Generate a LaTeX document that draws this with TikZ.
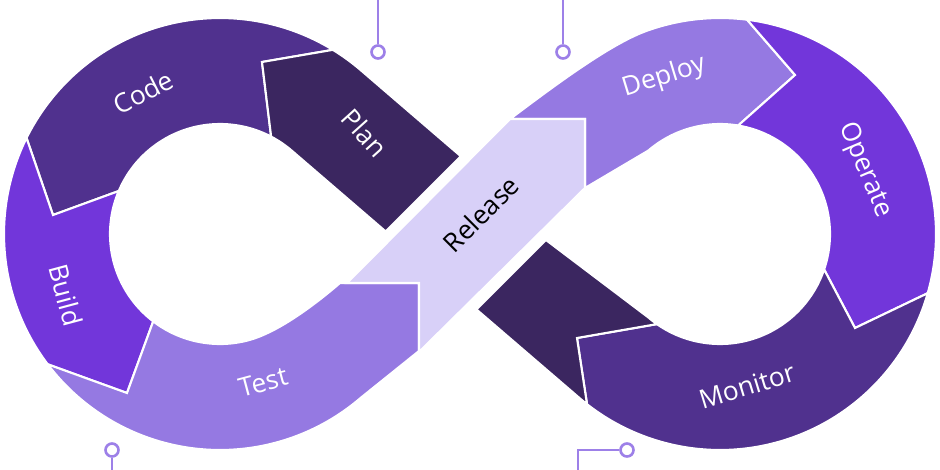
\documentclass[tikz,border=0pt]{standalone}
\usepackage{fontspec}
\setmainfont{Open Sans}
\usetikzlibrary{calc}
\definecolor{plancol}{HTML}{3B2660}
\definecolor{codecol}{HTML}{50318E}
\definecolor{buildcol}{HTML}{7236DA}
\definecolor{testcol}{HTML}{9579E2}
\definecolor{relcol}{HTML}{D8D0F8}
\definecolor{pincol}{HTML}{9D80E8}
\tikzset{%
  mystage/.style={draw=white, line width=1.2pt, line join=miter},
  mylabel/.style={text=white, font=\fontsize{15}{18}\selectfont},
  mypin/.style={circle, draw=pincol, line width=1.5pt, fill=white, minimum size=0.26cm, inner sep=0pt},
  mywire/.style={draw=pincol, line width=1.5pt}
}

\begin{document}
\begin{tikzpicture}[x=0.02cm, y=-0.02cm]
\useasboundingbox (0,0) rectangle (940,470);

\coordinate (cL) at (220,234);
\coordinate (cR) at (720,234);

% left loop
\path[fill=codecol, mystage] ($(cL)+(301.5:216)$) arc[start angle=301.5, end angle=206.4, radius=216]
  -- (53,215) -- ($(cL)+(203:110)$) arc[start angle=203, end angle=297.7, radius=110]
  -- (262,62) -- cycle;
\path[fill=buildcol, mystage] ($(cL)+(206.4:216)$) arc[start angle=206.4, end angle=142.9, radius=216]
  -- (127,393) -- ($(cL)+(127.4:110)$) arc[start angle=127.4, end angle=203, radius=110]
  -- (53,215) -- cycle;
\path[fill=testcol, mystage] ($(cL)+(142.9:216)$) arc[start angle=142.9, end angle=49.3, radius=216]
  -- (419,351) -- (419,283) -- (340,283) .. controls (313.5,305.8) and (277.5,332.5) .. ($(cL)+(75:110)$)
  arc[start angle=75, end angle=127.4, radius=110]
  -- (127,393) -- cycle;
\path[fill=plancol, mystage] (460.8,156.2) -- (385.6,231.4) -- ($(cL)+(310.7:110)$) arc[start angle=310.7, end angle=297.7, radius=110]
  -- (262,62) -- ($(cL)+(301.5:216)$) arc[start angle=301.5, end angle=310.7, radius=216] -- cycle;

% right loop
\path[fill=testcol, mystage] (510,119) .. controls (550,89) and (608.5,44.7) .. ($(cR)+(250:216)$)
  arc[start angle=250, end angle=277.2, radius=216]
  -- (795,75) -- ($(cR)+(279.5:110)$) arc[start angle=279.5, end angle=229.3, radius=110]
  -- (585,188) -- (585,119) -- cycle;
\path[fill=buildcol, mystage] ($(cR)+(277.2:216)$) arc[start angle=277.2, end angle=375.9, radius=216]
  -- (855,328) -- ($(cR)+(18.8:110)$) arc[start angle=378.8, end angle=279.5, radius=110]
  -- (795,75) -- cycle;
\path[fill=codecol, mystage] ($(cR)+(15.9:216)$) arc[start angle=15.9, end angle=128, radius=216]
  -- (577,338) -- ($(cR)+(125:110)$) arc[start angle=125, end angle=18.8, radius=110]
  -- (855,328) -- cycle;
\path[fill=plancol, mystage] ($(cR)+(128:216)$) arc[start angle=128, end angle=130.7, radius=216]
  -- (476.5,309.5) -- (546,240) -- ($(cR)+(130.7:110)$) arc[start angle=130.7, end angle=125, radius=110]
  -- (577,338) -- cycle;

% release on top
\path[fill=relcol, mystage] (347,283) -- (510,119) -- (585,119) -- (585,188) -- (419,352) -- (419,283) -- cycle;

\node[mylabel, rotate=27] (code) at (143,92) {Code};
\node[mylabel, rotate=-48] (plan) at (365,133) {Plan};
\node[mylabel, rotate=-75] (build) at (66,295) {Build};
\node[mylabel, rotate=15] (test) at (263,382) {Test};
\node[mylabel, rotate=45, text=black] (release) at (481,214) {Release};
\node[mylabel, rotate=17] (deploy) at (664,77) {Deploy};
\node[mylabel, rotate=-67] (operate) at (865,170) {Operate};
\node[mylabel, rotate=17] (monitor) at (747,386) {Monitor};

\node[mypin] (pinA) at (378,52) {};
\node[mypin] (pinB) at (563,52) {};
\node[mypin] (pinC) at (112,450) {};
\node[mypin] (pinD) at (627,450) {};
\coordinate (endA) at (378,0);
\coordinate (endB) at (563,0);
\coordinate (endC) at (112,470);
\coordinate (bendD) at (578,450);
\coordinate (endD) at (578,470);
\draw[mywire] (pinA) -- (endA);
\draw[mywire] (pinB) -- (endB);
\draw[mywire] (pinC) -- (endC);
\draw[mywire] (pinD) -- (bendD) -- (endD);
\end{tikzpicture}
\end{document}
